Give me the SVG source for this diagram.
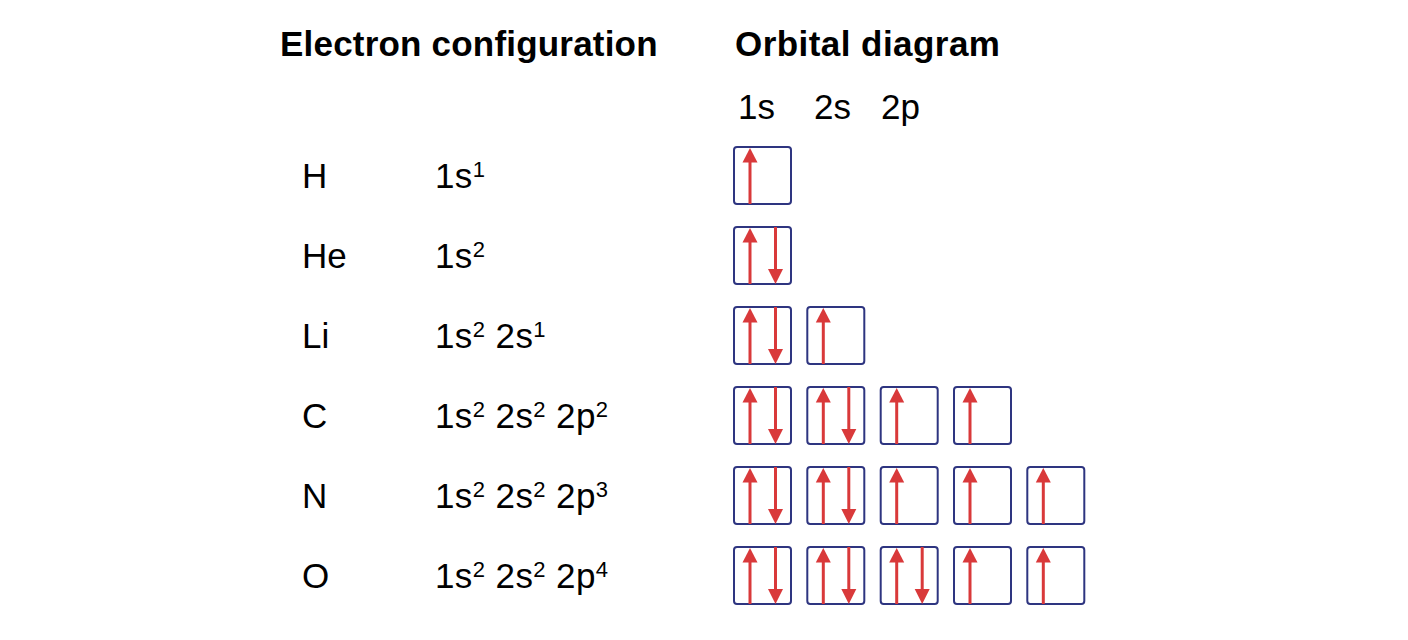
<svg xmlns="http://www.w3.org/2000/svg" xmlns:xlink="http://www.w3.org/1999/xlink" width="1408" height="640" viewBox="0 0 1408 640">
<style>
.hd{font-family:"Liberation Sans",Arial,sans-serif;font-weight:bold;font-size:35px;fill:#000}
.lb{font-family:"Liberation Sans",Arial,sans-serif;font-size:35px;fill:#000}
.cf{letter-spacing:0.4px}
.sup{font-size:22px}
.box{fill:#fff;stroke:#2e3580;stroke-width:2}
.ln{stroke:#d9393a;stroke-width:3}
.hd2{fill:#d9393a}
</style>
<defs>
<rect id="box" class="box" x="0" y="0" width="57" height="57" rx="3"/>
<g id="up"><line class="ln" x1="16" y1="13" x2="16" y2="57"/><polygon class="hd2" points="16,1 8.5,15.5 23.5,15.5"/></g>
<g id="down"><line class="ln" x1="41.5" y1="0" x2="41.5" y2="44"/><polygon class="hd2" points="41.5,57 34,42 49,42"/></g>
<g id="single"><use xlink:href="#box"/><use xlink:href="#up"/></g>
<g id="pair"><use xlink:href="#box"/><use xlink:href="#up"/><use xlink:href="#down"/></g>
</defs>
<rect width="1408" height="640" fill="#fff"/>
<g id="headers">
<text class="hd" x="280" y="56" letter-spacing="0.2">Electron configuration</text>
<text class="hd" x="735" y="56" letter-spacing="0.45">Orbital diagram</text>
<text class="lb" x="738" y="119">1s</text>
<text class="lb" x="814" y="119">2s</text>
<text class="lb" x="881" y="119">2p</text>
</g>
<g id="row-H">
<text class="lb" x="302" y="188">H</text>
<text class="lb cf" x="435" y="188">1s<tspan class="sup" dy="-11">1</tspan></text>
<use xlink:href="#single" x="734" y="147"/>
</g>
<g id="row-He">
<text class="lb" x="302" y="268">He</text>
<text class="lb cf" x="435" y="268">1s<tspan class="sup" dy="-11">2</tspan></text>
<use xlink:href="#pair" x="734" y="227"/>
</g>
<g id="row-Li">
<text class="lb" x="302" y="348">Li</text>
<text class="lb cf" x="435" y="348">1s<tspan class="sup" dy="-11">2</tspan><tspan dy="11"> 2s</tspan><tspan class="sup" dy="-11">1</tspan></text>
<use xlink:href="#pair" x="734" y="307"/>
<use xlink:href="#single" x="807.3" y="307"/>
</g>
<g id="row-C">
<text class="lb" x="302" y="428">C</text>
<text class="lb cf" x="435" y="428">1s<tspan class="sup" dy="-11">2</tspan><tspan dy="11"> 2s</tspan><tspan class="sup" dy="-11">2</tspan><tspan dy="11"> 2p</tspan><tspan class="sup" dy="-11">2</tspan></text>
<use xlink:href="#pair" x="734" y="387"/>
<use xlink:href="#pair" x="807.3" y="387"/>
<use xlink:href="#single" x="880.7" y="387"/>
<use xlink:href="#single" x="954" y="387"/>
</g>
<g id="row-N">
<text class="lb" x="302" y="508">N</text>
<text class="lb cf" x="435" y="508">1s<tspan class="sup" dy="-11">2</tspan><tspan dy="11"> 2s</tspan><tspan class="sup" dy="-11">2</tspan><tspan dy="11"> 2p</tspan><tspan class="sup" dy="-11">3</tspan></text>
<use xlink:href="#pair" x="734" y="467"/>
<use xlink:href="#pair" x="807.3" y="467"/>
<use xlink:href="#single" x="880.7" y="467"/>
<use xlink:href="#single" x="954" y="467"/>
<use xlink:href="#single" x="1027.3" y="467"/>
</g>
<g id="row-O">
<text class="lb" x="302" y="588">O</text>
<text class="lb cf" x="435" y="588">1s<tspan class="sup" dy="-11">2</tspan><tspan dy="11"> 2s</tspan><tspan class="sup" dy="-11">2</tspan><tspan dy="11"> 2p</tspan><tspan class="sup" dy="-11">4</tspan></text>
<use xlink:href="#pair" x="734" y="547"/>
<use xlink:href="#pair" x="807.3" y="547"/>
<use xlink:href="#pair" x="880.7" y="547"/>
<use xlink:href="#single" x="954" y="547"/>
<use xlink:href="#single" x="1027.3" y="547"/>
</g>
</svg>
